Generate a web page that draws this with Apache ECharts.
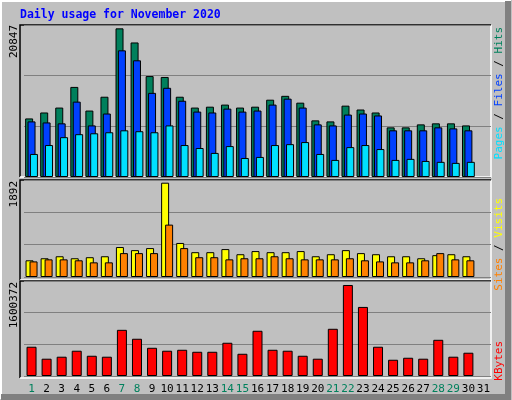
<!DOCTYPE html>
<html>
<head>
<meta charset="utf-8">
<script src="https://cdn.jsdelivr.net/npm/echarts@6/dist/echarts.min.js"></script>
<style>
  html, body { margin: 0; padding: 0; background: #c0c0c0; }
  #chart { width: 512px; height: 400px; }
</style>
</head>
<body>
<div id="chart"></div>
<script>
const days = ['1','2','3','4','5','6','7','8','9','10','11','12','13','14','15','16','17','18','19','20','21','22','23','24','25','26','27','28','29','30','31'];
const weekendDays = ['1','7','8','14','15','21','22','28','29'];

const hits = [8214, 9048, 9736, 12633, 9319, 11257, 20847, 18867, 14155, 14030, 11257, 9736, 9861, 10152, 9736, 9861, 10840, 11382, 10424, 7943, 7797, 10007, 9465, 9048, 6963, 6963, 7380, 7526, 7526, 7234];
const files = [7797, 7651, 7526, 10569, 7234, 8902, 17762, 16365, 11799, 12508, 10695, 9173, 9048, 9590, 9173, 9319, 10152, 10986, 9736, 7380, 7234, 8756, 8902, 8631, 6546, 6546, 6546, 6963, 6817, 6546];
const pages = [3231, 4482, 5587, 6004, 6129, 6275, 6546, 6421, 6275, 7234, 4482, 4065, 3377, 4336, 2668, 2814, 4482, 4607, 4899, 3231, 2397, 4190, 4482, 3919, 2397, 2543, 2251, 2126, 1980, 2126];

const visits = [335, 376, 416, 376, 397, 416, 601, 539, 580, 1892, 683, 498, 498, 560, 457, 520, 498, 498, 520, 416, 457, 539, 479, 457, 416, 416, 376, 438, 457, 416];
const sites = [313, 354, 354, 335, 294, 294, 479, 479, 479, 1051, 580, 397, 397, 354, 376, 376, 416, 376, 354, 354, 354, 376, 335, 313, 294, 294, 335, 479, 354, 335];

const kbytes = [514525, 304038, 339119, 444363, 355824, 339119, 811881, 654850, 496149, 444363, 461068, 425987, 425987, 584688, 390906, 795176, 461068, 444363, 355824, 304038, 830257, 1600372, 1214480, 514525, 285662, 320743, 304038, 636475, 339119, 409282];

const maxLabels = ['20847', '1892', '1600372'];

const chart = echarts.init(document.getElementById('chart'));
const mono = 'DejaVu Sans Mono';

function yAxisFor(idx, max) {
  return {
    gridIndex: idx, type: 'value', min: 0, max: max, interval: max / 3,
    axisLabel: { show: false }, axisLine: { show: false }, axisTick: { show: false },
    splitLine: { lineStyle: { color: '#808080', width: 1 } }
  };
}
function xAxisFor(idx, labels) {
  return {
    gridIndex: idx, type: 'category', data: days,
    axisLine: { show: false }, axisTick: { show: false },
    axisLabel: labels ? {
      show: true, interval: 0, margin: 8, fontFamily: mono, fontSize: 11,
      formatter: v => weekendDays.includes(v) ? '{g|' + v + '}' : '{k|' + v + '}',
      rich: { g: { color: '#00805c', fontFamily: mono, fontSize: 11 }, k: { color: '#000', fontFamily: mono, fontSize: 11 } }
    } : { show: false }
  };
}
function bar(name, data, color, xi, width, gap) {
  return {
    name, type: 'bar', data, xAxisIndex: xi, yAxisIndex: xi,
    barWidth: width, barGap: gap, animation: false,
    itemStyle: { color, borderColor: '#000', borderWidth: 1 }
  };
}
function vText(x, y, rich, text) {
  return { type: 'text', x, y, rotation: Math.PI / 2,
    style: { text, fontFamily: mono, fontSize: 11, rich, align: 'right', verticalAlign: 'middle', fill: '#000' } };
}

const panelLines = [];
[[25, 177], [180, 280], [281, 378]].forEach(([t, b]) => {
  panelLines.push({ type: 'polyline', shape: { points: [[20, b], [20, t], [491, t]] }, style: { stroke: '#000', lineWidth: 1.5, fill: null } });
  panelLines.push({ type: 'polyline', shape: { points: [[491, t], [491, b], [20, b]] }, style: { stroke: '#fff', lineWidth: 1.5, fill: null } });
});

chart.setOption({
  backgroundColor: '#c0c0c0',
  animation: false,
  grid: [
    { left: 24, width: 467, top: 25, height: 152 },
    { left: 24, width: 467, top: 180, height: 97 },
    { left: 24, width: 467, top: 281, height: 95 }
  ],
  xAxis: [xAxisFor(0, false), xAxisFor(1, false), xAxisFor(2, true)],
  yAxis: [yAxisFor(0, 21316), yAxisFor(1, 1946), yAxisFor(2, 1670537)],
  series: [
    bar('Hits', hits, '#00805c', 0, 8, '-70%'),
    bar('Files', files, '#0040ff', 0, 8, '-70%'),
    bar('Pages', pages, '#00e0ff', 0, 8, '-70%'),
    bar('Visits', visits, '#ffff00', 1, 8, '-50%'),
    bar('Sites', sites, '#ff8000', 1, 8, '-50%'),
    bar('KBytes', kbytes, '#ff0000', 2, 10, '0%')
  ],
  graphic: [
    { type: 'polyline', shape: { points: [[1, 399], [1, 1], [511, 1]] }, style: { stroke: '#fff', lineWidth: 2, fill: null } },
    { type: 'polyline', shape: { points: [[508, 1], [508, 397], [1, 397]] }, style: { stroke: '#808080', lineWidth: 6, fill: null } },
    { type: 'text', x: 20, y: 15, style: { text: 'Daily usage for November 2020', fontFamily: mono, fontSize: 11.5, fontWeight: 'bold', fill: '#0000ff', verticalAlign: 'middle' } },
    vText(14, 25, {}, maxLabels[0]),
    vText(14, 181, {}, maxLabels[1]),
    vText(14, 282, {}, maxLabels[2]),
    vText(499, 27, {
      p: { fill: '#00e0ff', fontFamily: mono, fontSize: 11 },
      f: { fill: '#0040ff', fontFamily: mono, fontSize: 11 },
      h: { fill: '#00805c', fontFamily: mono, fontSize: 11 },
      s: { fill: '#000', fontFamily: mono, fontSize: 11 }
    }, '{p|Pages}{s| / }{f|Files}{s| / }{h|Hits}'),
    vText(499, 198, {
      a: { fill: '#ff8000', fontFamily: mono, fontSize: 11 },
      b: { fill: '#ffff00', fontFamily: mono, fontSize: 11 },
      s: { fill: '#000', fontFamily: mono, fontSize: 11 }
    }, '{a|Sites}{s| / }{b|Visits}'),
    vText(499, 341, { r: { fill: '#ff0000', fontFamily: mono, fontSize: 11 } }, '{r|KBytes}')
  ].concat(panelLines)
});
</script>
</body>
</html>
